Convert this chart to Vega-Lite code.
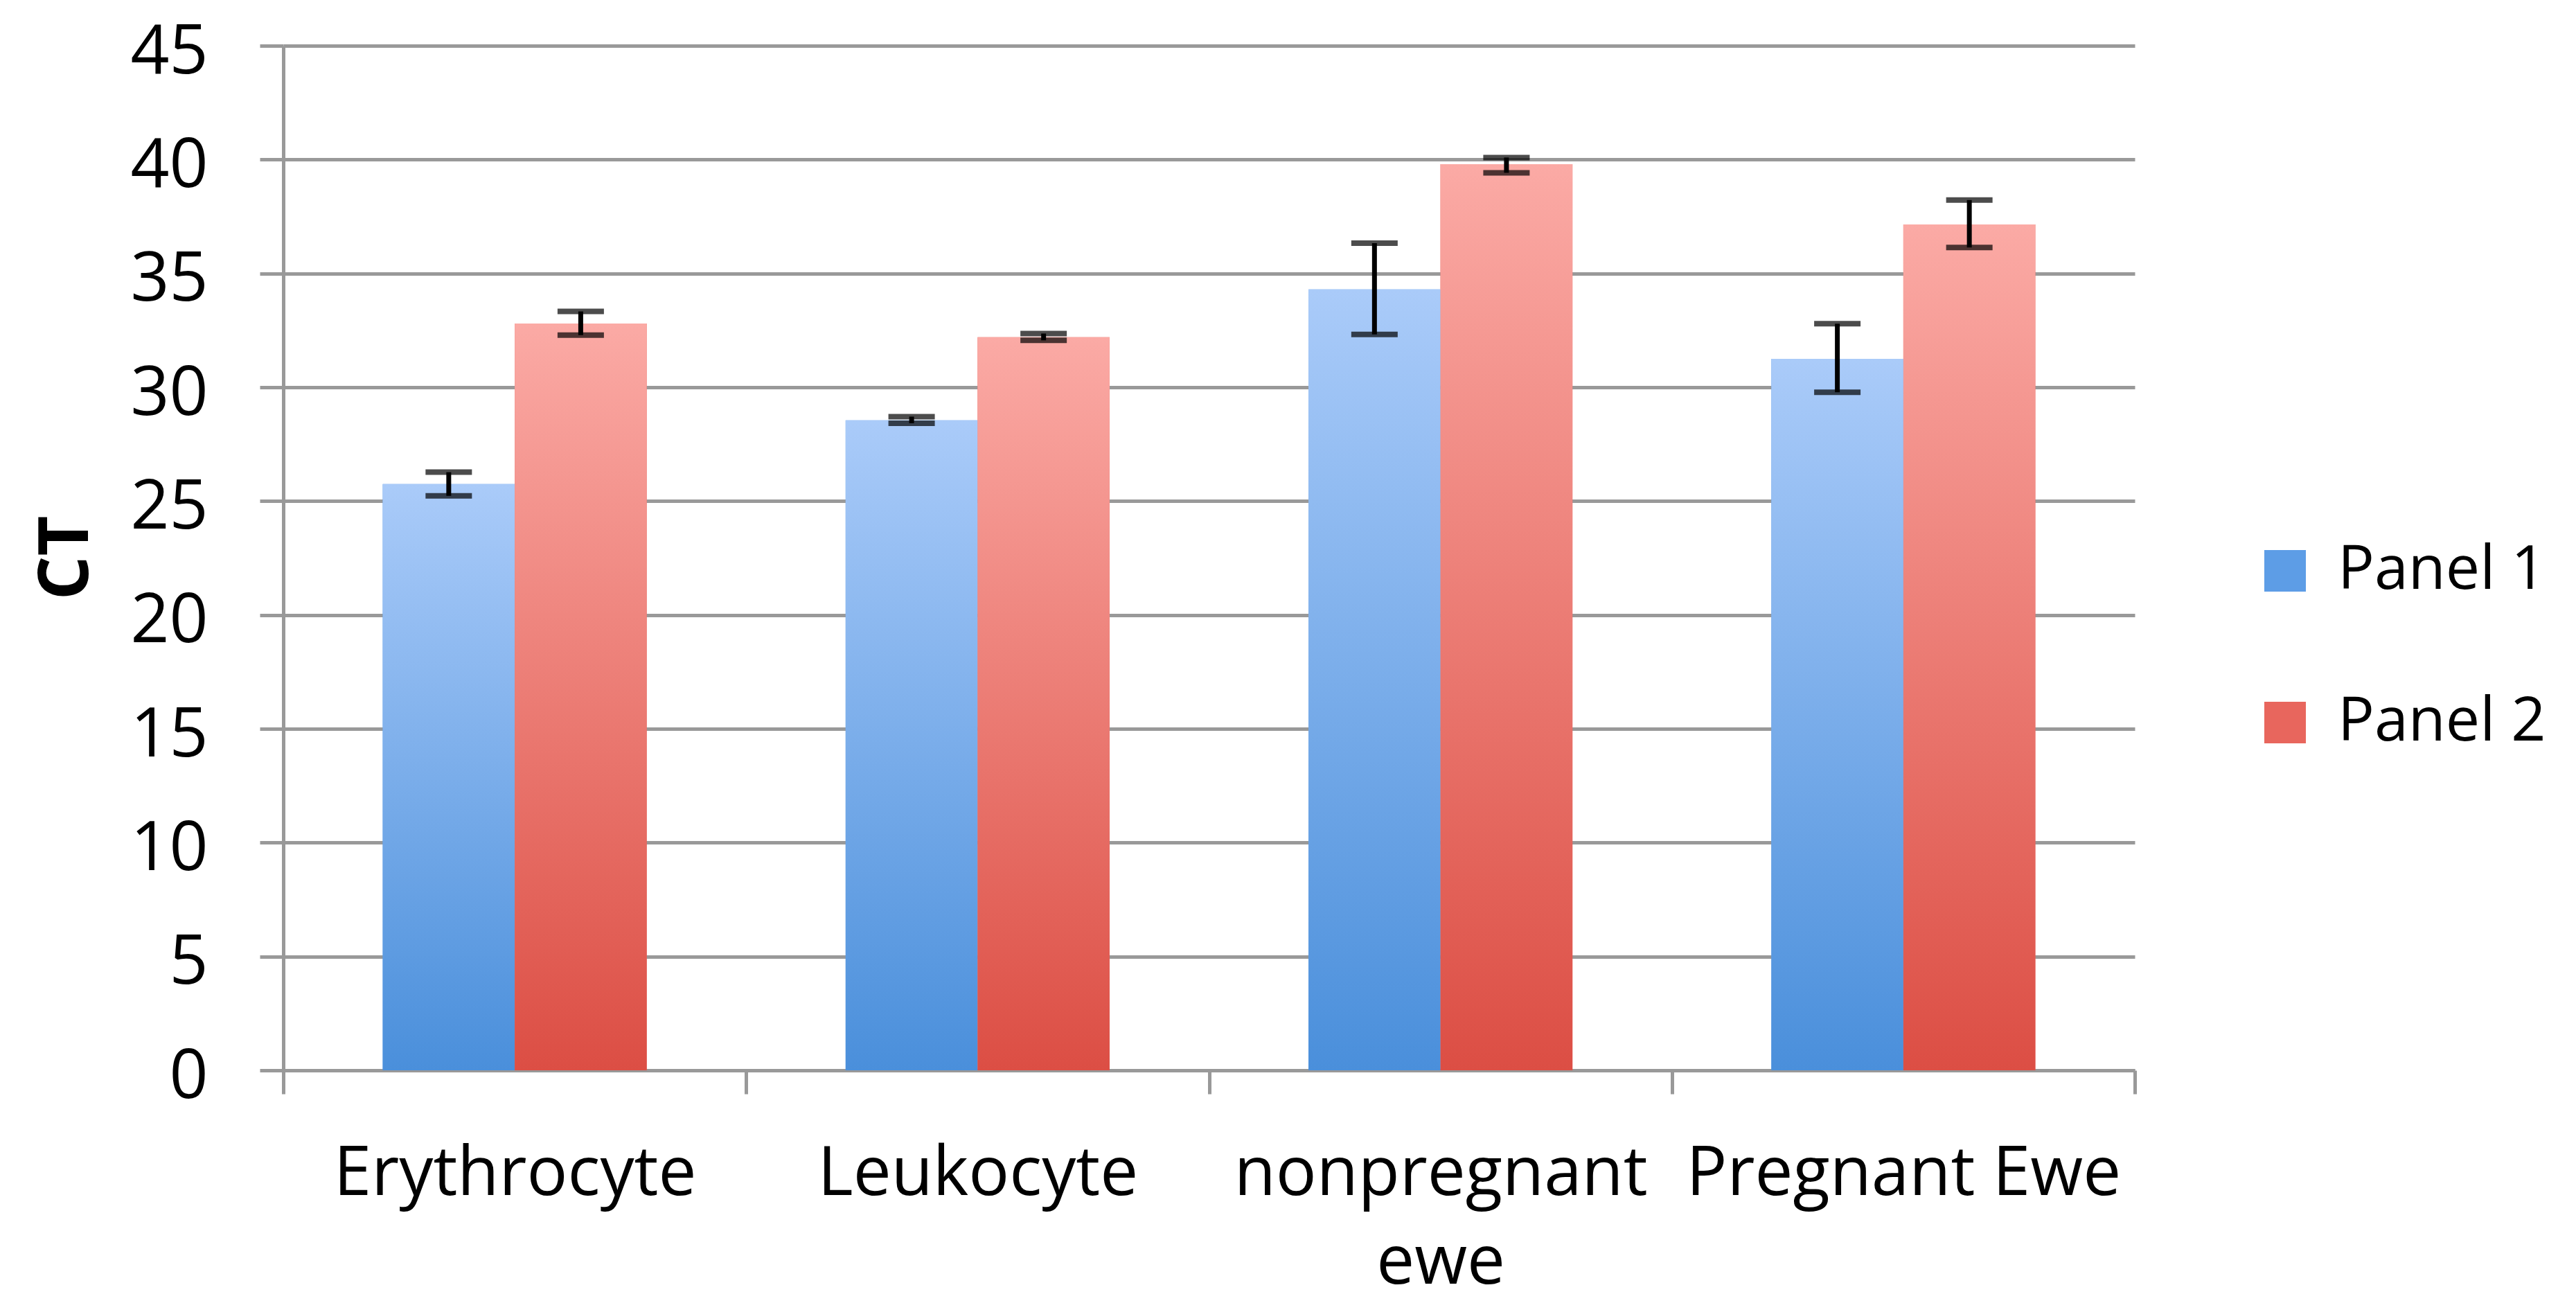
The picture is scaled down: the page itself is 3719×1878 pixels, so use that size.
{
  "$schema": "https://vega.github.io/schema/vega-lite/v6.json",
  "width": 2673,
  "height": 1479,
  "autosize": {"type": "none"},
  "padding": {"left": 409, "top": 66, "right": 637, "bottom": 333},
  "background": "white",
  "config": {
    "view": {"stroke": null},
    "font": "Open Sans"
  },
  "data": {
    "values": [
      {"cell": "Erythrocyte", "panel": "Panel 1", "ct": 25.75, "lo": 25.23, "hi": 26.27},
      {"cell": "Erythrocyte", "panel": "Panel 2", "ct": 32.8, "lo": 32.29, "hi": 33.33},
      {"cell": "Leukocyte", "panel": "Panel 1", "ct": 28.55, "lo": 28.42, "hi": 28.71},
      {"cell": "Leukocyte", "panel": "Panel 2", "ct": 32.2, "lo": 32.06, "hi": 32.36},
      {"cell": "nonpregnant ewe", "panel": "Panel 1", "ct": 34.3, "lo": 32.32, "hi": 36.33},
      {"cell": "nonpregnant ewe", "panel": "Panel 2", "ct": 39.8, "lo": 39.42, "hi": 40.09},
      {"cell": "Pregnant Ewe", "panel": "Panel 1", "ct": 31.25, "lo": 29.78, "hi": 32.79},
      {"cell": "Pregnant Ewe", "panel": "Panel 2", "ct": 37.15, "lo": 36.14, "hi": 38.22}
    ]
  },
  "encoding": {
    "x": {
      "field": "cell", "type": "nominal", "sort": null,
      "scale": {"paddingInner": 0, "paddingOuter": 0},
      "axis": {
        "title": null, "labelAngle": 0, "grid": false,
        "tickBand": "extent", "tickSize": 34, "tickColor": "#999", "tickWidth": 5,
        "domainColor": "#999", "domainWidth": 5,
        "labelFont": "Open Sans", "labelFontSize": 98, "labelColor": "#000",
        "labelPadding": 68, "labelLineHeight": 128, "labelLimit": 2000,
        "labelExpr": "datum.label == 'nonpregnant ewe' ? ['nonpregnant', 'ewe'] : datum.label"
      }
    },
    "xOffset": {"field": "panel", "type": "nominal", "scale": {"paddingInner": 0, "paddingOuter": 0.7535}}
  },
  "layer": [
    {
      "mark": {"type": "bar"},
      "encoding": {
        "y": {
          "field": "ct", "type": "quantitative",
          "scale": {"domain": [0, 45], "nice": false},
          "axis": {
            "values": [0, 5, 10, 15, 20, 25, 30, 35, 40, 45],
            "grid": true, "gridColor": "#999", "gridWidth": 5,
            "domainColor": "#999", "domainWidth": 5,
            "tickColor": "#999", "tickWidth": 5, "tickSize": 34,
            "labelFont": "Open Sans", "labelFontSize": 98, "labelColor": "#000",
            "labelPadding": 75, "labelOffset": 10,
            "title": "CT", "titleFont": "Open Sans", "titleFontSize": 100, "titleFontWeight": "bold",
            "titleColor": "#000", "titleAngle": -90, "titleX": -313, "titleY": 739,
            "titleAlign": "center", "titleBaseline": "middle"
          }
        },
        "color": {
          "field": "panel", "type": "nominal",
          "scale": {"domain": ["Panel 1", "Panel 2"], "range": ["#5d9de6", "#e8665d"]},
          "legend": {
            "title": null, "orient": "none", "legendX": 2846, "legendY": 714,
            "padding": 0, "symbolType": "square", "symbolSize": 3600,
            "symbolStrokeWidth": 0, "labelFont": "Open Sans", "labelFontSize": 88,
            "labelColor": "#000", "labelOffset": 32, "rowPadding": 131, "labelLimit": 2000
          }
        }
      }
    },
    {
      "mark": {"type": "bar"},
      "encoding": {
        "y": {"field": "ct", "type": "quantitative"},
        "fill": {
          "condition": {
            "test": "datum.panel === 'Panel 1'",
            "value": {"gradient": "linear", "x1": 0, "y1": 0, "x2": 0, "y2": 1,
              "stops": [{"offset": 0, "color": "#aacbf9"}, {"offset": 1, "color": "#4a8fdb"}]}
          },
          "value": {"gradient": "linear", "x1": 0, "y1": 0, "x2": 0, "y2": 1,
            "stops": [{"offset": 0, "color": "#fbaaa5"}, {"offset": 1, "color": "#dc4e44"}]}
        }
      }
    },
    {
      "mark": {"type": "rule", "color": "#000", "strokeWidth": 7},
      "encoding": {
        "y": {"field": "lo", "type": "quantitative"},
        "y2": {"field": "hi"}
      }
    },
    {
      "mark": {"type": "tick", "color": "#000", "size": 67, "thickness": 8, "orient": "horizontal"},
      "encoding": {"y": {"field": "lo", "type": "quantitative"}}
    },
    {
      "mark": {"type": "tick", "color": "#000", "size": 67, "thickness": 8, "orient": "horizontal"},
      "encoding": {"y": {"field": "hi", "type": "quantitative"}}
    }
  ]
}
